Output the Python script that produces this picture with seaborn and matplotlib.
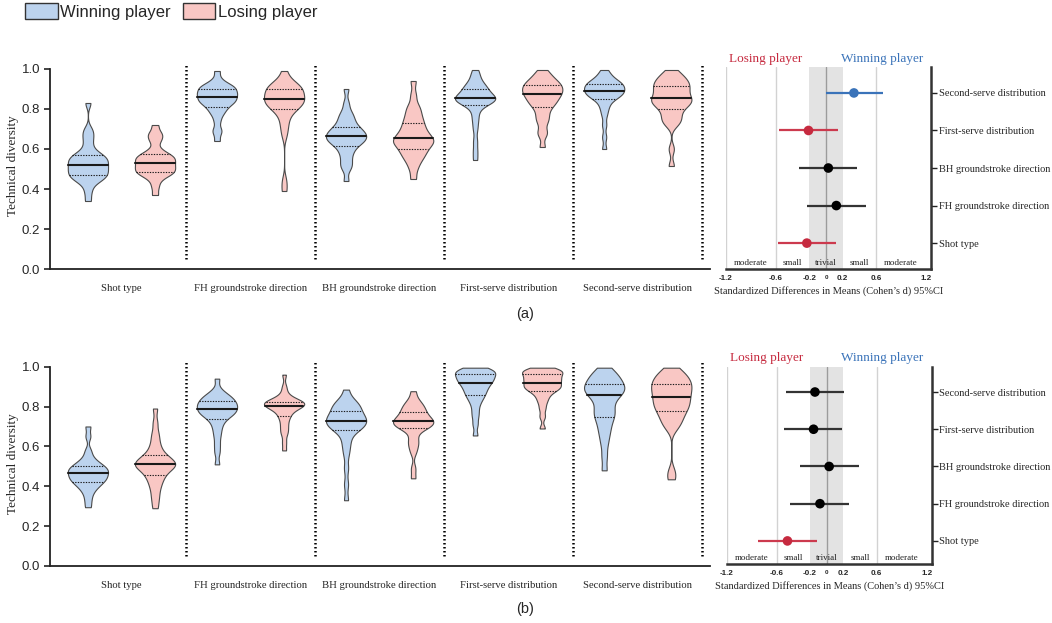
import numpy as np
import pandas as pd
import matplotlib
matplotlib.use("Agg")
import matplotlib.pyplot as plt
import seaborn as sns
from collections import defaultdict
from matplotlib.collections import LineCollection
from matplotlib.patches import Patch
from matplotlib import transforms

# ---------------- data ----------------
categories = ["Shot type", "FH groundstroke direction", "BH groundstroke direction",
              "First-serve distribution", "Second-serve distribution"]
players = ["Winning player", "Losing player"]

a_shot_win = [0.34, 0.385, 0.42, 0.44, 0.45, 0.455, 0.463, 0.47, 0.477, 0.484, 0.491, 0.498, 0.505, 0.512, 0.52,
              0.527, 0.534, 0.541, 0.548, 0.554, 0.561, 0.568, 0.578, 0.59, 0.62, 0.65, 0.675, 0.70, 0.83]
a_shot_lose = [0.37, 0.41, 0.44, 0.46, 0.47, 0.476, 0.482, 0.487, 0.494, 0.50, 0.506, 0.512, 0.518, 0.525, 0.532,
               0.538, 0.544, 0.55, 0.556, 0.562, 0.568, 0.573, 0.585, 0.60, 0.635, 0.655, 0.67, 0.685, 0.72]
a_fh_win = [0.64, 0.68, 0.70, 0.74, 0.77, 0.785, 0.80, 0.81, 0.82, 0.83, 0.835, 0.84, 0.845, 0.85, 0.858,
            0.865, 0.87, 0.875, 0.88, 0.885, 0.89, 0.90, 0.905, 0.91, 0.915, 0.92, 0.93, 0.95, 0.99]
a_fh_lose = [0.39, 0.44, 0.67, 0.71, 0.74, 0.77, 0.79, 0.80, 0.81, 0.82, 0.825, 0.83, 0.835, 0.84, 0.85,
             0.855, 0.86, 0.865, 0.875, 0.885, 0.89, 0.90, 0.905, 0.91, 0.915, 0.92, 0.93, 0.95, 0.99]
a_bh_win = [0.44, 0.50, 0.52, 0.54, 0.565, 0.585, 0.60, 0.617, 0.625, 0.635, 0.64, 0.645, 0.65, 0.66, 0.665,
            0.67, 0.675, 0.68, 0.69, 0.695, 0.705, 0.712, 0.725, 0.74, 0.755, 0.77, 0.79, 0.83, 0.90]
a_bh_lose = [0.45, 0.50, 0.53, 0.55, 0.565, 0.575, 0.59, 0.598, 0.61, 0.62, 0.63, 0.635, 0.64, 0.645, 0.653,
             0.66, 0.67, 0.68, 0.69, 0.705, 0.715, 0.73, 0.745, 0.76, 0.78, 0.80, 0.82, 0.87, 0.94]
a_fs_win = [0.545, 0.59, 0.64, 0.70, 0.74, 0.77, 0.80, 0.82, 0.83, 0.835, 0.84, 0.843, 0.846, 0.85, 0.853,
            0.857, 0.86, 0.865, 0.87, 0.88, 0.89, 0.898, 0.905, 0.91, 0.92, 0.93, 0.95, 0.97, 0.995]
a_fs_lose = [0.61, 0.67, 0.69, 0.73, 0.75, 0.77, 0.79, 0.81, 0.82, 0.83, 0.84, 0.85, 0.855, 0.865, 0.873,
             0.88, 0.885, 0.89, 0.90, 0.905, 0.91, 0.92, 0.925, 0.93, 0.94, 0.95, 0.96, 0.975, 0.995]
a_ss_win = [0.60, 0.66, 0.72, 0.77, 0.80, 0.82, 0.84, 0.85, 0.86, 0.865, 0.87, 0.875, 0.88, 0.885, 0.89,
            0.895, 0.90, 0.905, 0.91, 0.915, 0.92, 0.925, 0.93, 0.935, 0.94, 0.95, 0.96, 0.975, 0.995]
a_ss_lose = [0.515, 0.60, 0.72, 0.735, 0.75, 0.765, 0.78, 0.80, 0.81, 0.82, 0.828, 0.835, 0.842, 0.848, 0.853,
             0.862, 0.872, 0.882, 0.892, 0.90, 0.908, 0.917, 0.925, 0.933, 0.942, 0.952, 0.962, 0.975, 0.995]

# Panel (b)
b_shot_win = [0.295, 0.33, 0.36, 0.38, 0.395, 0.405, 0.413, 0.42, 0.43, 0.435, 0.44, 0.445, 0.45, 0.458, 0.465,
              0.47, 0.475, 0.48, 0.485, 0.49, 0.497, 0.503, 0.51, 0.52, 0.53, 0.55, 0.58, 0.65, 0.70]
b_shot_lose = [0.29, 0.33, 0.36, 0.39, 0.41, 0.43, 0.445, 0.455, 0.47, 0.48, 0.49, 0.495, 0.50, 0.505, 0.51,
               0.515, 0.52, 0.525, 0.53, 0.54, 0.55, 0.555, 0.57, 0.59, 0.61, 0.64, 0.67, 0.72, 0.79]
b_fh_win = [0.51, 0.57, 0.61, 0.65, 0.68, 0.705, 0.725, 0.74, 0.75, 0.76, 0.765, 0.77, 0.775, 0.78, 0.788,
            0.795, 0.80, 0.805, 0.81, 0.815, 0.82, 0.83, 0.835, 0.84, 0.85, 0.855, 0.865, 0.885, 0.94]
b_fh_lose = [0.58, 0.62, 0.66, 0.68, 0.70, 0.72, 0.74, 0.752, 0.765, 0.775, 0.785, 0.79, 0.795, 0.80, 0.805,
             0.808, 0.81, 0.813, 0.816, 0.819, 0.822, 0.825, 0.83, 0.835, 0.84, 0.85, 0.87, 0.90, 0.96]
b_bh_win = [0.33, 0.41, 0.49, 0.56, 0.60, 0.63, 0.66, 0.683, 0.69, 0.695, 0.70, 0.71, 0.715, 0.72, 0.73,
            0.735, 0.74, 0.745, 0.75, 0.76, 0.77, 0.78, 0.79, 0.80, 0.805, 0.815, 0.825, 0.84, 0.885]
b_bh_lose = [0.44, 0.49, 0.57, 0.60, 0.62, 0.64, 0.67, 0.69, 0.695, 0.70, 0.705, 0.71, 0.715, 0.72, 0.727,
             0.73, 0.735, 0.74, 0.745, 0.755, 0.765, 0.772, 0.78, 0.79, 0.80, 0.81, 0.82, 0.84, 0.877]
b_fs_win = [0.655, 0.71, 0.75, 0.78, 0.81, 0.83, 0.845, 0.857, 0.867, 0.877, 0.887, 0.897, 0.903, 0.912, 0.92,
            0.927, 0.932, 0.937, 0.942, 0.947, 0.955, 0.963, 0.967, 0.972, 0.976, 0.98, 0.984, 0.988, 0.995]
b_fs_lose = [0.69, 0.75, 0.79, 0.82, 0.84, 0.857, 0.87, 0.879, 0.887, 0.892, 0.897, 0.902, 0.907, 0.912, 0.92,
             0.927, 0.932, 0.937, 0.942, 0.947, 0.954, 0.962, 0.967, 0.972, 0.976, 0.98, 0.984, 0.988, 0.995]
b_ss_win = [0.48, 0.55, 0.61, 0.65, 0.68, 0.705, 0.73, 0.748, 0.762, 0.777, 0.792, 0.812, 0.832, 0.847, 0.857,
            0.867, 0.877, 0.882, 0.887, 0.897, 0.904, 0.911, 0.922, 0.932, 0.942, 0.952, 0.962, 0.977, 0.995]
b_ss_lose = [0.435, 0.475, 0.69, 0.71, 0.73, 0.745, 0.76, 0.776, 0.787, 0.797, 0.807, 0.817, 0.827, 0.837, 0.849,
             0.857, 0.867, 0.877, 0.887, 0.897, 0.904, 0.912, 0.922, 0.932, 0.942, 0.952, 0.962, 0.977, 0.995]

# Forest plots (order = categories, bottom to top): Cohen's d and 95% CI
d_a = [-0.23, 0.124, 0.028, -0.21, 0.335]
lo_a = [-0.58, -0.228, -0.32, -0.56, -0.005]
hi_a = [0.12, 0.475, 0.375, 0.144, 0.687]
favour_a = ["losing", "none", "none", "losing", "winning"]

d_b = [-0.47, -0.08, 0.03, -0.157, -0.14]
lo_b = [-0.82, -0.44, -0.32, -0.51, -0.49]
hi_b = [-0.11, 0.27, 0.39, 0.19, 0.21]
favour_b = ["losing", "none", "none", "none", "none"]

effect_tick_values = [-1.2, -0.6, -0.2, 0, 0.2, 0.6, 1.2]
effect_tick_labels = ["-1.2", "-0.6", "-0.2", "0", "0.2", "0.6", "1.2"]
zone_centers = [-0.9, -0.4, 0.0, 0.4, 0.9]
zone_labels = ["moderate", "small", "trivial", "small", "moderate"]

panel_a = {
    "Shot type": (a_shot_win, a_shot_lose),
    "FH groundstroke direction": (a_fh_win, a_fh_lose),
    "BH groundstroke direction": (a_bh_win, a_bh_lose),
    "First-serve distribution": (a_fs_win, a_fs_lose),
    "Second-serve distribution": (a_ss_win, a_ss_lose),
}
panel_b = {
    "Shot type": (b_shot_win, b_shot_lose),
    "FH groundstroke direction": (b_fh_win, b_fh_lose),
    "BH groundstroke direction": (b_bh_win, b_bh_lose),
    "First-serve distribution": (b_fs_win, b_fs_lose),
    "Second-serve distribution": (b_ss_win, b_ss_lose),
}


def to_long(panel):
    rows = []
    for cat, (win, lose) in panel.items():
        for v in win:
            rows.append((cat, players[0], v))
        for v in lose:
            rows.append((cat, players[1], v))
    return pd.DataFrame(rows, columns=["category", "player", "value"])


# ---------------- style ----------------
sns.set_theme(style="white")
SANS = "Liberation Sans"
SERIF = "Liberation Serif"
plt.rcParams["font.family"] = [SANS, "DejaVu Sans"]

BLUE_FILL = "#bcd3ee"
PINK_FILL = "#f9c7c4"
fav_point = {"winning": "#3a73b9", "losing": "#c62a3f", "none": "#000000"}
fav_line = {"winning": "#3a73b9", "losing": "#cc3a4e", "none": "#333333"}
DOT = (0, (1.2, 1.2))

fig = plt.figure(figsize=(10.52, 6.23), dpi=100)

ax_va = fig.add_axes([0.0475, 0.5682, 0.6274, 0.3307])
ax_vb = fig.add_axes([0.0475, 0.0915, 0.6274, 0.3295])
ax_fa = fig.add_axes([0.6901, 0.5682, 0.1949, 0.3242])
ax_fb = fig.add_axes([0.6907, 0.0947, 0.1949, 0.3167])


def style_quartiles(ax, n_coll, n_lines):
    # LineCollection case
    for coll in ax.collections[n_coll:]:
        if isinstance(coll, LineCollection):
            segs = coll.get_segments()
            if len(segs) == 0 or len(segs) % 3:
                continue
            styles, widths = [], []
            for k in range(0, len(segs), 3):
                ys = [np.mean(np.asarray(s)[:, 1]) for s in segs[k:k + 3]]
                order = np.argsort(ys)
                st = [None] * 3
                w = [None] * 3
                for rank, idx in enumerate(order):
                    st[idx] = "-" if rank == 1 else DOT
                    w[idx] = 1.5 if rank == 1 else 0.8
                styles += st
                widths += w
            coll.set_linestyles(styles)
            coll.set_linewidths(widths)
            coll.set_color("#1a1a1a")
    # Line2D case
    groups = defaultdict(list)
    for ln in ax.lines[n_lines:]:
        xd = np.asarray(ln.get_xdata(), dtype=float)
        yd = np.asarray(ln.get_ydata(), dtype=float)
        if len(xd) < 2:
            continue
        groups[round(float(np.mean(xd)), 2)].append((float(np.mean(yd)), ln))
    for key, items in groups.items():
        items.sort(key=lambda t: t[0])
        mid = len(items) // 2
        for i, (_, ln) in enumerate(items):
            ln.set_color("#1a1a1a")
            if i == mid and len(items) % 2 == 1:
                ln.set_linestyle("-")
                ln.set_linewidth(1.5)
            else:
                ln.set_linestyle(DOT)
                ln.set_linewidth(0.8)


def draw_violins(ax, panel):
    df = to_long(panel)
    n_coll = len(ax.collections)
    n_lines = len(ax.lines)
    sns.violinplot(data=df, x="category", y="value", hue="player", order=categories,
                   hue_order=players, palette=[BLUE_FILL, PINK_FILL], saturation=1,
                   inner="quart", cut=0, density_norm="width", bw_adjust=0.45,
                   width=1.04, gap=0.4, linewidth=0.8, linecolor="#4a4a4a",
                   legend=False, ax=ax)
    style_quartiles(ax, n_coll, n_lines)
    for i in range(len(categories)):
        ax.plot([i + 0.5, i + 0.5], [0.05, 1.03], color="black", lw=1.8,
                linestyle=(0, (0.6, 1.0)), zorder=1)
    ax.set_xlim(-0.554, 4.56)
    ax.set_ylim(0, 1.03)
    ax.set_yticks([0, 0.2, 0.4, 0.6, 0.8, 1.0])
    ax.set_yticklabels(["0.0", "0.2", "0.4", "0.6", "0.8", "1.0"], fontsize=9.5, family=SANS)
    ax.set_xticks(range(len(categories)))
    ax.set_xticklabels(categories, fontsize=7.7, family=SERIF)
    ax.tick_params(axis="x", length=0, pad=11)
    ax.tick_params(axis="y", length=4, width=1.2, direction="out", pad=3, color="#222222", left=True)
    ax.set_xlabel("")
    ax.set_ylabel("Technical diversity", fontsize=9.5, family=SERIF)
    ax.yaxis.set_label_coords(-0.047, 0.5)
    for side in ["top", "right"]:
        ax.spines[side].set_visible(False)
    ax.spines["left"].set_bounds(0, 1.0)
    for side in ["left", "bottom"]:
        ax.spines[side].set_linewidth(1.3)
        ax.spines[side].set_color("#222222")


def draw_forest(ax, d, lo, hi, favour, ylim):
    ypos = np.arange(len(categories))
    ax.axvspan(-0.2, 0.2, color="#e3e3e3", zorder=0, lw=0)
    for g in [-1.2, -0.6, 0.6]:
        ax.axvline(g, color="#d2d2d2", lw=1.0, zorder=0.5)
    ax.axvline(0, color="#9c9c9c", lw=1.0, zorder=0.6)
    ax.hlines(ypos, lo, hi, colors=[fav_line[f] for f in favour], lw=1.6, zorder=2)
    sns.scatterplot(x=d, y=ypos, hue=favour, palette=fav_point, s=48, linewidth=0,
                    legend=False, ax=ax, zorder=3)
    ax.set_xlim(-1.2, 1.26)
    ax.set_ylim(*ylim)
    ax.set_xticks(effect_tick_values)
    ax.set_xticklabels(effect_tick_labels, fontsize=5.8, fontweight="bold", family=SANS)
    for lab in ax.get_xticklabels():
        if lab.get_text() == "0":
            lab.set_fontsize(4.5)
    ax.tick_params(axis="x", length=0, pad=4)
    ax.yaxis.tick_right()
    ax.set_yticks(ypos)
    ax.set_yticklabels(categories, fontsize=7.5, family=SERIF)
    ax.tick_params(axis="y", right=True, left=False, length=4, width=1.0, pad=1.5,
                   direction="out", color="#222222")
    ax.set_xlabel("Standardized Differences in Means (Cohen\u2019s d) 95%CI",
                  fontsize=7.5, family=SERIF, labelpad=3)
    ax.set_ylabel("")
    for side in ["top", "left"]:
        ax.spines[side].set_visible(False)
    for side in ["right", "bottom"]:
        ax.spines[side].set_visible(True)
        ax.spines[side].set_linewidth(1.8)
        ax.spines[side].set_color("#333333")
    trans = transforms.blended_transform_factory(ax.transData, ax.transAxes)
    for x, lab in zip(zone_centers, zone_labels):
        ax.text(x, 0.012, lab, transform=trans, ha="center", va="bottom",
                fontsize=6.5, family=SERIF, color="#222222")
    ax.text(-0.72, 1.012, "Losing player", transform=trans, ha="center", va="bottom",
            fontsize=9.5, family=SERIF, color=fav_point["losing"])
    ax.text(0.67, 1.012, "Winning player", transform=trans, ha="center", va="bottom",
            fontsize=9.5, family=SERIF, color=fav_point["winning"])
    ax.grid(False)


draw_violins(ax_va, panel_a)
draw_violins(ax_vb, panel_b)
draw_forest(ax_fa, d_a, lo_a, hi_a, favour_a, (-0.69, 4.69))
draw_forest(ax_fb, d_b, lo_b, hi_b, favour_b, (-0.62, 4.68))

fig.text(0.499, 0.496, "(a)", ha="center", va="center", fontsize=10.5, family=SANS)
fig.text(0.499, 0.022, "(b)", ha="center", va="center", fontsize=10.5, family=SANS)

handles = [Patch(facecolor=BLUE_FILL, edgecolor="#333333", linewidth=1.0),
           Patch(facecolor=PINK_FILL, edgecolor="#333333", linewidth=1.0)]
fig.legend(handles, players, loc="upper left", bbox_to_anchor=(0.024, 0.995), ncol=2,
           frameon=False, borderaxespad=0, borderpad=0.0, handlelength=1.95,
           handleheight=1.05, handletextpad=0.15, columnspacing=0.7,
           prop={"family": SANS, "size": 12})

fig.savefig("out.png", dpi=100)
